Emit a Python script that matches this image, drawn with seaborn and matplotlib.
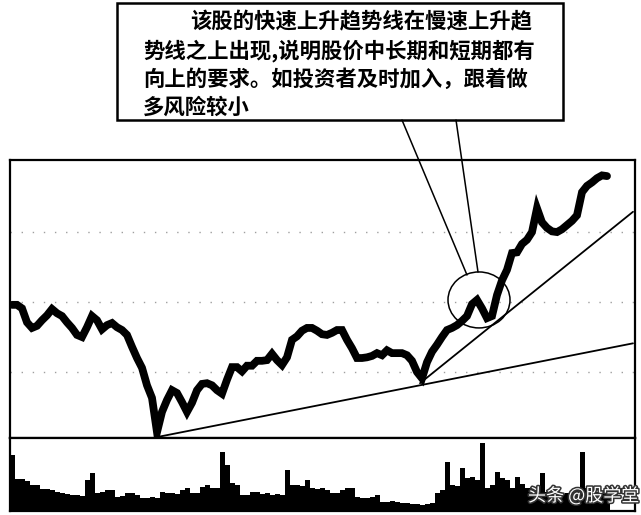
import numpy as np
import matplotlib
matplotlib.use("Agg")
import matplotlib.pyplot as plt
import matplotlib.patches as mpatches
import matplotlib.patheffects as pe
from matplotlib.lines import Line2D
import seaborn as sns

# ---------------- data ----------------
price = [19.6, 19.6, 19.1, 17.1, 16.3, 16.6, 17.4, 18.1, 19.0, 18.4,
         18.0, 17.1, 16.3, 15.3, 15.0, 16.4, 18.0, 17.4, 16.1, 16.7,
         17.0, 16.4, 16.0, 15.3, 13.6, 12.0, 10.6, 8.1, 6.3, 1.4,
         4.3, 6.0, 7.4, 7.0, 5.7, 4.3, 5.6, 7.4, 8.3, 8.4,
         8.1, 7.4, 6.9, 8.9, 10.7, 10.7, 10.1, 10.9, 10.9, 11.6,
         11.6, 11.7, 12.6, 11.7, 11.0, 12.1, 14.6, 15.1, 15.9, 16.3,
         16.3, 15.9, 15.4, 15.3, 15.6, 16.0, 16.0, 14.6, 13.4, 12.0,
         12.0, 12.1, 12.3, 12.7, 12.4, 13.1, 12.7, 12.7, 12.7, 12.4,
         11.6, 10.0, 9.1, 11.4, 12.9, 13.9, 15.0, 16.0, 16.3, 16.7,
         17.3, 18.0, 19.7, 20.3, 19.1, 17.7, 18.0, 21.0, 23.1, 24.6,
         27.0, 27.1, 28.3, 28.9, 30.0, 33.4, 31.4, 30.6, 30.1, 30.0,
         30.4, 31.0, 31.6, 32.4, 35.7, 36.6, 37.1, 37.7, 38.1, 38.0]

volume = [56, 32, 32, 30, 26, 26, 22, 22, 21, 19,
          18, 17, 16, 16, 15, 31, 38, 18, 19, 21,
          21, 14, 15, 18, 18, 16, 13, 13, 14, 13,
          19, 18, 18, 17, 21, 23, 18, 18, 24, 26,
          23, 23, 59, 46, 28, 26, 16, 16, 19, 19,
          17, 18, 16, 17, 16, 41, 26, 26, 25, 31,
          23, 22, 23, 21, 18, 18, 21, 23, 23, 14,
          13, 13, 14, 16, 9, 9, 10, 9, 8, 8,
          7, 7, 6, 7, 8, 18, 21, 49, 26, 25,
          43, 33, 34, 31, 68, 23, 26, 39, 33, 31,
          23, 34, 27, 23, 21, 20, 38, 19, 18, 18,
          17, 18, 17, 23, 59, 23, 19, 19, 18, 17]

days = np.arange(len(price)) * 2

slow_trend_x = [58.0, 248.4]
slow_trend_y = [0.7, 14.1]
fast_trend_x = [163.2, 248.4]
fast_trend_y = [8.4, 32.9]
grid_levels = [10, 20, 30]

note_lines = ["该股的快速上升趋势线在慢速上升趋",
              "势线之上出现,说明股价中长期和短期都有",
              "向上的要求。如投资者及时加入，跟着做",
              "多风险较小"]
watermark = "头条 @股学堂"

# ---------------- style ----------------
sns.set_style("white")
plt.rcParams['font.family'] = ['Noto Sans CJK SC', 'DejaVu Sans']

W, H = 641, 515
fig = plt.figure(figsize=(W / 100, H / 100), dpi=100)
fig.patch.set_facecolor("white")


def fx(x):
    return x / W


def fy(y):
    return 1 - y / H


ax = fig.add_axes([fx(10), fy(438), (635 - 10) / W, (438 - 160) / H])
axv = fig.add_axes([fx(10), fy(511), (635 - 10) / W, (511 - 438) / H])

# price panel
for lv in grid_levels:
    ax.axhline(lv, color="#777777", lw=1.0, ls=(0, (1, 7)), alpha=0.7, zorder=1)
sns.lineplot(x=days, y=price, ax=ax, color="black", lw=5.6, zorder=3,
             solid_joinstyle="miter")
sns.lineplot(x=slow_trend_x, y=slow_trend_y, ax=ax, color="black", lw=1.3, zorder=2)
sns.lineplot(x=fast_trend_x, y=fast_trend_y, ax=ax, color="black", lw=1.3, zorder=2)
ax.add_patch(mpatches.Ellipse((186.8, 20.3), 24.8, 8.0, fill=False,
                              edgecolor="black", lw=1.1, zorder=4))
ax.set_xlim(-0.8, 249.2)
ax.set_ylim(0.57, 40.3)

# volume panel
sns.barplot(x=days, y=volume, ax=axv, native_scale=True, color="black",
            saturation=1, width=1.0, linewidth=0, errorbar=None)
axv.set_xlim(-0.8, 249.2)
axv.set_ylim(0, 73)

for a in (ax, axv):
    a.set_xticks([])
    a.set_yticks([])
    a.set_xlabel("")
    a.set_ylabel("")
    for s in a.spines.values():
        s.set_visible(True)
        s.set_color("black")
        s.set_linewidth(1.6)

# callout box
fig.add_artist(mpatches.Rectangle((fx(117), fy(120)), (563 - 117) / W, (120 - 3) / H,
                                  transform=fig.transFigure, fill=True,
                                  facecolor="white", edgecolor="black", lw=1.8))
fig.add_artist(Line2D([fx(402), fx(467)], [fy(120), fy(275)],
                      transform=fig.transFigure, color="black", lw=1.1))
fig.add_artist(Line2D([fx(456), fx(478)], [fy(120), fy(272)],
                      transform=fig.transFigure, color="black", lw=1.1))

starts = [190, 143, 143, 143]
ys = [22, 51, 79, 107]
for txt, x0, y0 in zip(note_lines, starts, ys):
    fig.text(fx(x0), fy(y0), txt, fontsize=15.4, fontweight="bold",
             ha="left", va="center", color="black")

fig.text(fx(528), fy(496), watermark, fontsize=13, color="white",
         ha="left", va="center",
         path_effects=[pe.withStroke(linewidth=2.2, foreground="#333333")])

fig.savefig("out.png", dpi=100)
